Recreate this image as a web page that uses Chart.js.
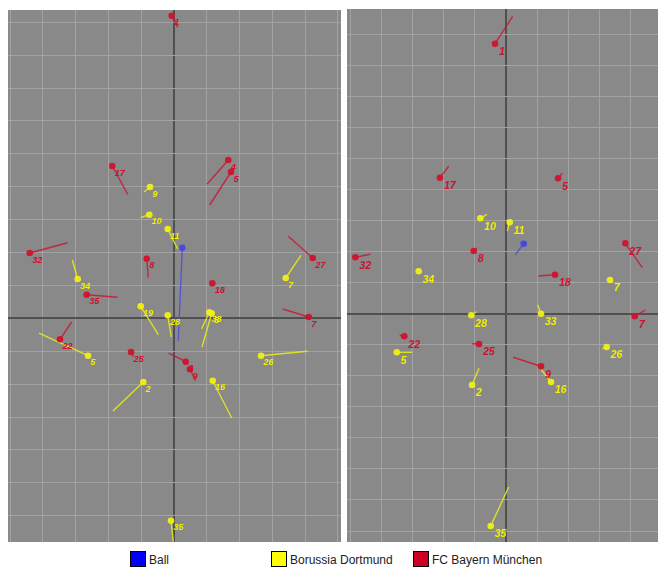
<!DOCTYPE html>
<html>
<head>
<meta charset="utf-8">
<script src="https://cdn.jsdelivr.net/npm/chart.js@4/dist/chart.umd.min.js"></script>
<style>
  html, body { margin: 0; padding: 0; background: #ffffff; width: 658px; height: 569px; overflow: hidden; position: relative; }
  canvas { position: absolute; display: block; }
  #cL { left: 8px; top: 10px; }
  #cR { left: 347px; top: 9px; }
  .leg { position: absolute; top: 551px; height: 16px; font-family: "Liberation Sans", Arial, sans-serif; font-size: 12px; color: #222; line-height: 16px; white-space: nowrap; }
  .leg span.box { position: absolute; left: 0; top: 0; width: 14px; height: 14px; border: 1px solid #000; }
  .leg span.txt { position: absolute; left: 19px; top: 1px; }
</style>
</head>
<body>
<canvas id="cL" width="333" height="532"></canvas>
<canvas id="cR" width="311" height="533"></canvas>
<div class="leg" style="left:130px"><span class="box" style="background:#0000ff"></span><span class="txt">Ball</span></div>
<div class="leg" style="left:271px"><span class="box" style="background:#ffff00"></span><span class="txt">Borussia Dortmund</span></div>
<div class="leg" style="left:413px"><span class="box" style="background:#cc0022"></span><span class="txt">FC Bayern München</span></div>
<script>
// ---------- LEFT PANEL ----------
const L_FCB_NUM = ["1", "4", "5", "17", "32", "8", "27", "18", "35", "7", "22", "25", "2", "9"];
const L_FCB_X   = [-0.70, 16.57, 17.39, -18.83, -44.03, -8.33, 42.33, 11.69, -26.64, 41.10, -34.79, -13.12, 3.57, 4.88];
const L_FCB_Y   = [91.98, 48.12, 44.47, 46.29, 19.85, 18.12, 18.33, 10.64, 7.17, 0.40, -6.38, -10.24, -13.19, -15.50];
const L_FCB_EX  = [1.13, 10.07, 10.89, -14.13, -32.44, -7.84, 34.88, 11.20, -17.18, 33.17, -31.22, -12.42, -1.62, 6.62];
const L_FCB_EY  = [88.45, 40.73, 34.44, 37.69, 22.98, 12.46, 24.92, 9.82, 6.38, 2.83, -1.12, -11.67, -10.55, -18.97];

const L_BVB_NUM = ["9", "10", "11", "34", "7", "19", "28", "33", "8", "5", "26", "2", "16", "35"];
const L_BVB_X   = [-7.32, -7.54, -1.92, -29.39, 34.09, -10.16, -1.92, 10.77, 11.50, -26.24, 26.55, -9.37, 11.81, -0.92];
const L_BVB_Y   = [39.91, 31.49, 27.14, 11.95, 12.25, 3.65, 0.91, 1.82, 1.52, -11.37, -11.37, -19.36, -18.97, -61.52];
const L_BVB_EX  = [-9.15, -10.16, 1.13, -31.03, 38.75, -4.79, -0.82, 8.45, 8.54, -41.20, 40.68, -18.61, 17.61, -0.21];
const L_BVB_EY  = [38.39, 30.70, 21.06, 17.72, 19.15, -4.98, -5.68, -3.16, -8.81, -4.47, -10.03, -28.18, -30.30, -67.90];

const L_BALL_X  = [2.53];
const L_BALL_Y  = [21.46];
const L_BALL_EX = [1.31];
const L_BALL_EY = [-6.81];

// ---------- RIGHT PANEL ----------
const R_FCB_NUM = ["1", "17", "5", "32", "8", "27", "18", "7", "22", "25", "9"];
const R_FCB_X   = [-3.54, -21.22, 16.72, -48.46, -10.39, 38.36, 15.76, 41.38, -32.70, -8.68, 11.25];
const R_FCB_Y   = [86.96, 43.80, 43.61, 18.16, 20.19, 22.67, 12.56, -0.84, -7.28, -9.76, -16.94];
const R_FCB_EX  = [2.15, -18.42, 18.10, -43.63, -9.42, 43.83, 10.39, 44.79, -34.18, -10.84, 2.25];
const R_FCB_EY  = [95.78, 47.47, 45.22, 19.13, 21.16, 14.81, 12.14, 1.19, -6.96, -9.66, -14.04];

const R_BVB_NUM = ["10", "11", "34", "7", "28", "33", "5", "26", "16", "2", "35"];
const R_BVB_X   = [-8.26, 1.19, -28.07, 33.44, -11.16, 11.25, -35.14, 32.38, 14.47, -10.93, -4.92];
const R_BVB_Y   = [30.72, 29.44, 13.66, 10.85, -0.52, 0.00, -12.43, -10.72, -22.00, -22.96, -68.37];
const R_BVB_EX  = [-6.11, 0.42, -28.40, 34.31, -9.55, 10.19, -30.13, 30.96, 11.35, -8.68, 0.87];
const R_BVB_EY  = [32.01, 26.63, 13.90, 10.21, 0.64, 2.90, -12.43, -11.27, -18.04, -17.58, -55.81];

const R_BALL_X  = [5.69];
const R_BALL_Y  = [22.54];
const R_BALL_EX = [2.99];
const R_BALL_EY = [19.00];

// axis ranges
const L_XRANGE = [-50.66, 50.96];
const L_YRANGE = [-67.99, 93.71];
const R_XRANGE = [-51.13, 48.87];
const R_YRANGE = [-73.53, 98.13];

const GRID_STEP = 10;

const COLORS = {
  fcb:  { point: 'rgba(205,20,45,0.95)', line: 'rgba(200,25,50,0.85)', label: '#d0102c' },
  bvb:  { point: 'rgba(240,240,20,0.95)', line: 'rgba(232,232,30,0.9)', label: '#f0f000' },
  ball: { point: 'rgba(70,70,230,0.95)', line: 'rgba(80,80,220,0.9)', label: '#4040e0' }
};

function buildDatasets(team, nums, xs, ys, exs, eys) {
  const c = COLORS[team];
  const ds = [];
  for (let i = 0; i < xs.length; i++) {
    ds.push({
      type: 'scatter',
      data: [{x: xs[i], y: ys[i]}, {x: exs[i], y: eys[i]}],
      showLine: true,
      borderColor: c.line,
      borderWidth: 1.4,
      pointRadius: 0,
      pointHoverRadius: 0,
      order: 2
    });
  }
  const pts = {
    type: 'scatter',
    data: xs.map((x, i) => ({x: x, y: ys[i]})),
    labelColor: c.label,
    backgroundColor: c.point,
    borderColor: c.point,
    borderWidth: 0,
    pointRadius: 3.3,
    showLine: false,
    order: 1
  };
  if (nums) pts.labelsText = nums;
  ds.push(pts);
  return ds;
}

const labelPlugin = {
  id: 'numLabels',
  afterDatasetsDraw(chart) {
    const ctx = chart.ctx;
    const o = chart.options.plugins.numLabels;
    ctx.save();
    ctx.font = 'italic bold ' + o.fontSize + 'px "Liberation Sans", Arial, sans-serif';
    ctx.textAlign = 'left';
    ctx.textBaseline = 'alphabetic';
    chart.data.datasets.forEach((ds, di) => {
      if (!ds.labelsText) return;
      const meta = chart.getDatasetMeta(di);
      ctx.fillStyle = ds.labelColor;
      meta.data.forEach((pt, i) => {
        ctx.fillText(ds.labelsText[i], pt.x + o.dx, pt.y + o.dy);
      });
    });
    ctx.restore();
  }
};

// grid ticks at every multiple of GRID_STEP inside the range
function gridTicks(scale) {
  const t = [];
  const start = Math.ceil(scale.min / GRID_STEP);
  const end = Math.floor(scale.max / GRID_STEP);
  for (let k = start; k <= end; k++) t.push({ value: k * GRID_STEP });
  scale.ticks = t;
}

function gridColor(c) {
  const v = c.tick ? c.tick.value : null;
  if (v === null) return 'transparent';
  if (Math.abs(v) < 1e-9) return '#505050';
  return '#a2a2a2';
}
function gridWidth(c) {
  const v = c.tick ? c.tick.value : null;
  if (v !== null && Math.abs(v) < 1e-9) return 2;
  return 1;
}

const bgPlugin = {
  id: 'bg',
  beforeDraw(chart) {
    const a = chart.chartArea;
    chart.ctx.save();
    chart.ctx.fillStyle = '#898989';
    chart.ctx.fillRect(a.left, a.top, a.right - a.left, a.bottom - a.top);
    chart.ctx.restore();
  }
};

function makeChart(id, xr, yr, datasets, fs, dx, dy) {
  return new Chart(document.getElementById(id), {
    type: 'scatter',
    data: { datasets: datasets },
    options: {
      responsive: false,
      animation: false,
      devicePixelRatio: 1,
      layout: { padding: 0, autoPadding: false },
      plugins: {
        legend: { display: false },
        tooltip: { enabled: false },
        numLabels: { fontSize: fs, dx: dx, dy: dy }
      },
      scales: {
        x: {
          type: 'linear', min: xr[0], max: xr[1],
          afterBuildTicks: gridTicks,
          ticks: { display: false },
          grid: { color: gridColor, lineWidth: gridWidth, drawTicks: false },
          border: { display: false }
        },
        y: {
          type: 'linear', min: yr[0], max: yr[1],
          afterBuildTicks: gridTicks,
          ticks: { display: false },
          grid: { color: gridColor, lineWidth: gridWidth, drawTicks: false },
          border: { display: false }
        }
      }
    },
    plugins: [bgPlugin, labelPlugin]
  });
}

const leftDs = [].concat(
  buildDatasets('bvb', L_BVB_NUM, L_BVB_X, L_BVB_Y, L_BVB_EX, L_BVB_EY),
  buildDatasets('fcb', L_FCB_NUM, L_FCB_X, L_FCB_Y, L_FCB_EX, L_FCB_EY),
  buildDatasets('ball', null, L_BALL_X, L_BALL_Y, L_BALL_EX, L_BALL_EY)
);
const rightDs = [].concat(
  buildDatasets('bvb', R_BVB_NUM, R_BVB_X, R_BVB_Y, R_BVB_EX, R_BVB_EY),
  buildDatasets('fcb', R_FCB_NUM, R_FCB_X, R_FCB_Y, R_FCB_EX, R_FCB_EY),
  buildDatasets('ball', null, R_BALL_X, R_BALL_Y, R_BALL_EX, R_BALL_EY)
);

makeChart('cL', L_XRANGE, L_YRANGE, leftDs, 9, 2.5, 9.7);
makeChart('cR', R_XRANGE, R_YRANGE, rightDs, 10.5, 4, 11.3);
</script>
</body>
</html>
